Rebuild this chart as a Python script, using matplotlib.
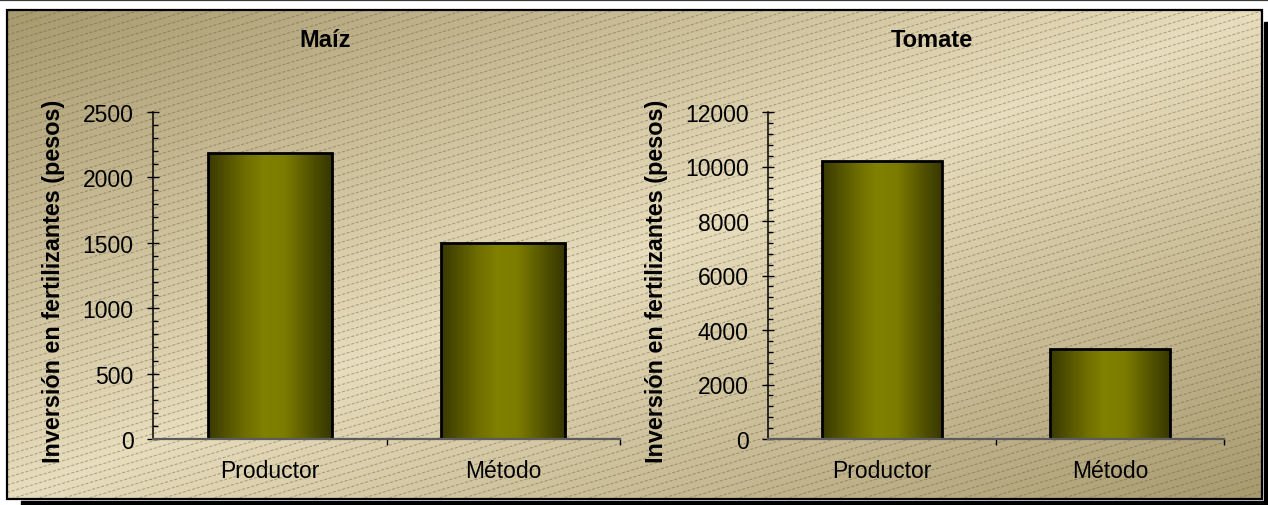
import numpy as np
import matplotlib
matplotlib.use("Agg")
import matplotlib.pyplot as plt
from matplotlib.colors import LinearSegmentedColormap, to_rgb
from matplotlib.collections import LineCollection
from matplotlib.patches import Rectangle
from matplotlib.ticker import MultipleLocator

# ---- data ----
categories = ["Productor", "Método"]
maiz_values = [2190, 1500]
tomate_values = [10200, 3300]
panel_titles = ["Maíz", "Tomate"]
y_label = "Inversión en fertilizantes (pesos)"

plt.rcParams['font.family'] = ['Liberation Sans', 'DejaVu Sans']

W, H = 1268, 506
fig = plt.figure(figsize=(W / 100, H / 100), dpi=100)
fig.patch.set_facecolor('white')

# ---- background layer in pixel coordinates ----
bg = fig.add_axes([0, 0, 1, 1], zorder=0)
bg.axis('off')

fx0, fy0, fx1, fy1 = 7, 11, 1262, 500
nx, ny = 500, 200
u = np.linspace(0, 1, nx)[None, :]
v = np.linspace(0, 1, ny)[:, None]
t = (u + v) / 2
w = 1 - np.abs(2 * t - 1)
dark = np.array(to_rgb('#a89a6f'))
light = np.array(to_rgb('#e8ddbc'))
img = dark + (light - dark) * w[..., None]
bg.imshow(img, extent=[fx0, fx1, fy1, fy0], aspect='auto',
          interpolation='bilinear', zorder=1)

# diagonal dashed texture
slope = -0.3
spacing = 7.5
segs = []
c = fy0 - 5
while c < fy1 + abs(slope) * (fx1 - fx0) + 10:
    segs.append([(fx0, c), (fx1, c + slope * (fx1 - fx0))])
    c += spacing
frame_clip = Rectangle((fx0, fy0), fx1 - fx0, fy1 - fy0, transform=bg.transData)
lc = LineCollection(segs, colors=[(0.36, 0.32, 0.22, 0.42)], linewidths=0.75,
                    linestyles=[(0, (3, 1.6))], zorder=2)
bg.add_collection(lc)
lc.set_clip_path(frame_clip)

# frame, shadow and top rule
bg.add_patch(Rectangle((fx0, fy0), fx1 - fx0, fy1 - fy0, fill=False,
                       edgecolor='black', linewidth=1.6, zorder=3))
bg.add_patch(Rectangle((21, fy1 + 1.5), W - 21, H - fy1, color='black', zorder=3))
bg.add_patch(Rectangle((fx1 + 1.5, 23), W - fx1, H - 23, color='black', zorder=3))
bg.plot([0, W], [0.8, 0.8], color='#3a3a3a', linewidth=1.6, zorder=3)
bg.set_xlim(0, W)
bg.set_ylim(H, 0)

# ---- bar gradient ----
bar_cmap = LinearSegmentedColormap.from_list(
    'olive', [(0.0, '#393900'), (0.3, '#6e6e00'), (0.45, '#808000'),
              (0.62, '#7c7c00'), (0.85, '#505000'), (1.0, '#373700')])
grad = np.linspace(0, 1, 256)[None, :]

TICK_FS = 16.5
LABEL_FS = 16.8
TITLE_FS = 17


def px_rect(x0, y0, x1, y1):
    return [x0 / W, 1 - y1 / H, (x1 - x0) / W, (y1 - y0) / H]


def panel(rect, values, ymax, major, minor, title, title_x, label_x):
    ax = fig.add_axes(rect, zorder=2)
    ax.patch.set_alpha(0)
    x = np.arange(len(categories))
    bars = ax.bar(x, values, width=0.53, facecolor='none', edgecolor='black',
                  linewidth=2.0, zorder=3)
    for b in bars:
        x0 = b.get_x()
        x1 = x0 + b.get_width()
        h = b.get_height()
        im = ax.imshow(grad, extent=[x0, x1, 0, h], aspect='auto',
                       cmap=bar_cmap, interpolation='bicubic', zorder=2)
        im.set_clip_path(b)
    ax.set_xlim(-0.5, len(categories) - 0.5)
    ax.set_ylim(0, ymax)

    for s in ('top', 'right'):
        ax.spines[s].set_visible(False)
    ax.spines['left'].set_color('black')
    ax.spines['left'].set_linewidth(1.1)
    ax.spines['bottom'].set_color('#5c5c5c')
    ax.spines['bottom'].set_linewidth(1.6)
    ax.spines['bottom'].set_zorder(5)

    ax.yaxis.set_major_locator(MultipleLocator(major))
    ax.yaxis.set_minor_locator(MultipleLocator(minor))
    ax.tick_params(axis='y', which='major', direction='inout', length=8,
                   width=1, labelsize=TICK_FS, pad=10, colors='black')
    ax.tick_params(axis='y', which='minor', direction='in', length=3.5, width=1)

    ax.set_xticks(np.arange(len(categories)) + 0.5)
    ax.set_xticks(np.arange(len(categories)), minor=True)
    ax.set_xticklabels(categories, minor=True)
    ax.tick_params(axis='x', which='major', direction='out', length=4.5,
                   width=1, labelbottom=False)
    ax.tick_params(axis='x', which='minor', length=0, pad=14.5,
                   labelsize=TICK_FS)

    fig.text(title_x / W, 1 - 47 / H, title, ha='center', va='baseline',
             fontsize=TITLE_FS, fontweight='bold')
    fig.text(label_x / W, 1 - 281 / H, y_label, ha='center', va='center',
             rotation=90, fontsize=LABEL_FS, fontweight='bold')
    return ax


panel(px_rect(153, 113, 620, 440), maiz_values, 2500, 500, 100,
      panel_titles[0], 325, 54)
panel(px_rect(768, 113, 1224, 440), tomate_values, 12000, 2000, 400,
      panel_titles[1], 932, 657)

fig.savefig('out.png', dpi=100)
